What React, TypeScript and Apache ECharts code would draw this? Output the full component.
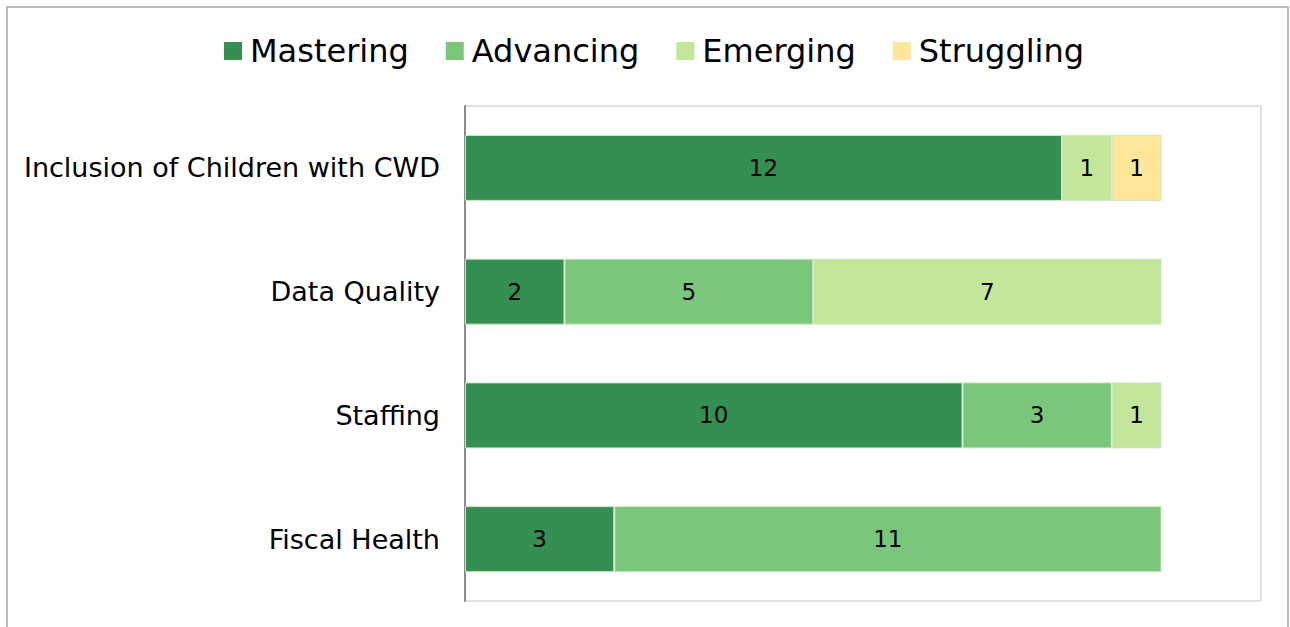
import React, { useEffect, useRef } from "react";
import * as echarts from "echarts";

const categories = ["Inclusion of Children with CWD", "Data Quality", "Staffing", "Fiscal Health"];
const mastering = [12, 2, 10, 3];
const advancing = [0, 5, 3, 11];
const emerging = [1, 7, 1, 0];
const struggling = [1, 0, 0, 0];

const seriesDefs = [
  { name: "Mastering", data: mastering, color: "#358f52" },
  { name: "Advancing", data: advancing, color: "#7ac77c" },
  { name: "Emerging", data: emerging, color: "#c3e69a" },
  { name: "Struggling", data: struggling, color: "#ffe699" },
];

const FONT = "DejaVu Sans, Verdana, sans-serif";

export default function App() {
  const ref = useRef<HTMLDivElement>(null);
  useEffect(() => {
    document.body.style.margin = "0";
    const chart = echarts.init(ref.current!, null, { renderer: "svg" });
    chart.setOption({
      animation: false,
      backgroundColor: "#ffffff",
      graphic: [
        {
          type: "rect",
          shape: { x: 7, y: 7, width: 1281, height: 640 },
          style: { fill: "none", stroke: "#a6a6a6", lineWidth: 1.5 },
          silent: true,
        },
      ],
      legend: {
        top: 30,
        left: 219,
        itemWidth: 18,
        itemHeight: 18,
        itemGap: 37,
        icon: "rect",
        itemStyle: { borderWidth: 0 },
        textStyle: { fontFamily: FONT, fontSize: 32, color: "#000", padding: [0, 0, 0, 3] },
        data: seriesDefs.map((s) => s.name),
      },
      grid: { left: 465, top: 106, right: 29, bottom: 26, show: true, borderColor: "#c4c4c4", borderWidth: 1 },
      xAxis: {
        type: "value",
        min: 0,
        max: 16,
        show: false,
        splitLine: { show: false },
      },
      yAxis: {
        type: "category",
        inverse: true,
        data: categories,
        axisLine: { show: true, lineStyle: { color: "#8c8c8c", width: 2 } },
        axisTick: { show: false },
        axisLabel: { fontFamily: FONT, fontSize: 27, color: "#000", margin: 25 },
      },
      series: seriesDefs.map((s) => ({
        name: s.name,
        type: "bar",
        stack: "total",
        barWidth: 66,
        itemStyle: { color: s.color, borderColor: "#cfe6c6", borderWidth: 1 },
        label: {
          show: true,
          position: "inside",
          fontFamily: FONT,
          fontSize: 23,
          color: "#000",
          formatter: (p: any) => (p.value ? String(p.value) : ""),
        },
        data: s.data.map((v) => (v === 0 ? "-" : v)),
      })),
    });
    return () => chart.dispose();
  }, []);
  return <div ref={ref} style={{ width: 1290, height: 627 }} />;
}
